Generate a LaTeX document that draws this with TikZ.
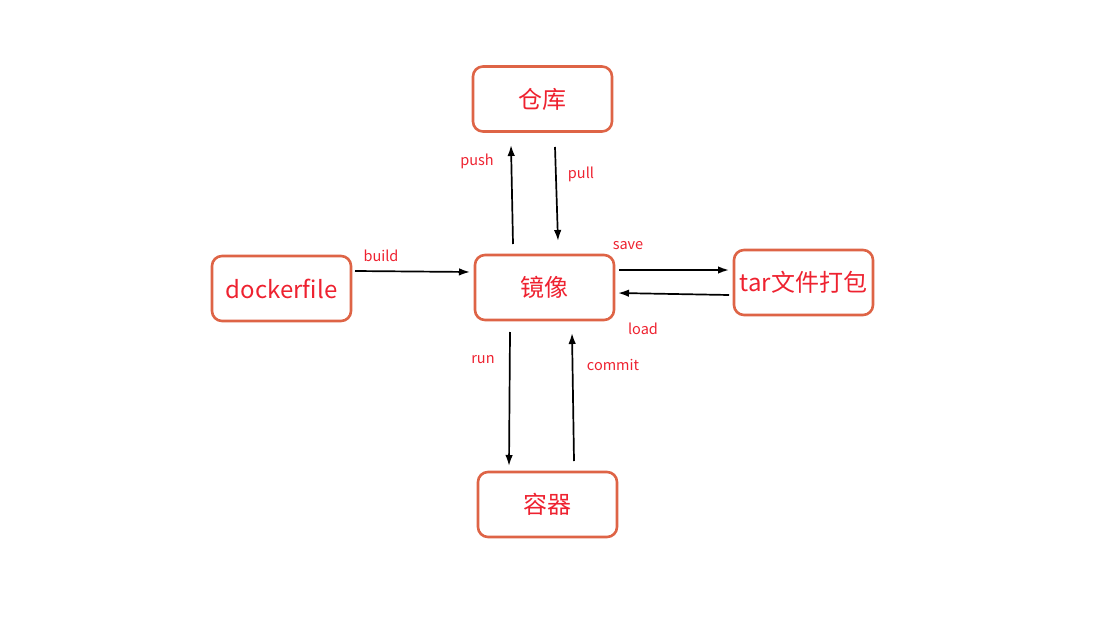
\documentclass[tikz,border=0pt]{standalone}
\usepackage{fontspec}
\setmainfont{Noto Sans CJK SC}
\usetikzlibrary{arrows.meta}
\definecolor{boxc}{HTML}{DE6446}
\definecolor{txtc}{HTML}{EE2230}
\begin{document}
\begin{tikzpicture}[x=1pt,y=-1pt,
  box/.style={draw=boxc,line width=2.6pt,rounded corners=10pt,minimum width=139pt,minimum height=65pt,inner sep=0pt,text=txtc,font=\fontsize{24}{28}\selectfont},
  arr/.style={-{Latex[length=11pt,width=7.5pt]},line width=1.7pt,black},
  lbl/.style={text=txtc,font=\fontsize{14.5}{17}\selectfont,inner sep=0pt}]
\path[use as bounding box] (0,0) rectangle (1115,639);
\node[box] (repo) at (542.5,99) {仓库};
\node[box] (img) at (544.5,287.5) {镜像};
\node[box] (df) at (281.5,288.5) {dockerfile};
\node[box] (tar) at (803.5,282.5) {tar文件打包};
\node[box] (ctr) at (547.5,504.5) {容器};
% arrow endpoints
\coordinate (b1) at (355,271); \coordinate (b2) at (470,272);
\coordinate (p1) at (513,244); \coordinate (p2) at (511,145);
\coordinate (l1) at (555,147); \coordinate (l2) at (558,241);
\coordinate (s1) at (619,270); \coordinate (s2) at (729,270);
\coordinate (o1) at (729,295); \coordinate (o2) at (618,293);
\coordinate (r1) at (510,332); \coordinate (r2) at (509,466);
\coordinate (c1) at (574,461); \coordinate (c2) at (572,333);
\draw[arr] (b1) -- (b2);
\draw[arr] (p1) -- (p2);
\draw[arr] (l1) -- (l2);
\draw[arr] (s1) -- (s2);
\draw[arr] (o1) -- (o2);
\draw[arr] (r1) -- (r2);
\draw[arr] (c1) -- (c2);
\node[lbl] (lb) at (381,256) {build};
\node[lbl] (lp) at (477,161) {push};
\node[lbl] (ll) at (581,174) {pull};
\node[lbl] (ls) at (628,246) {save};
\node[lbl] (lo) at (643,329) {load};
\node[lbl] (lr) at (483,360) {run};
\node[lbl] (lc) at (613,365) {commit};
\end{tikzpicture}
\end{document}
